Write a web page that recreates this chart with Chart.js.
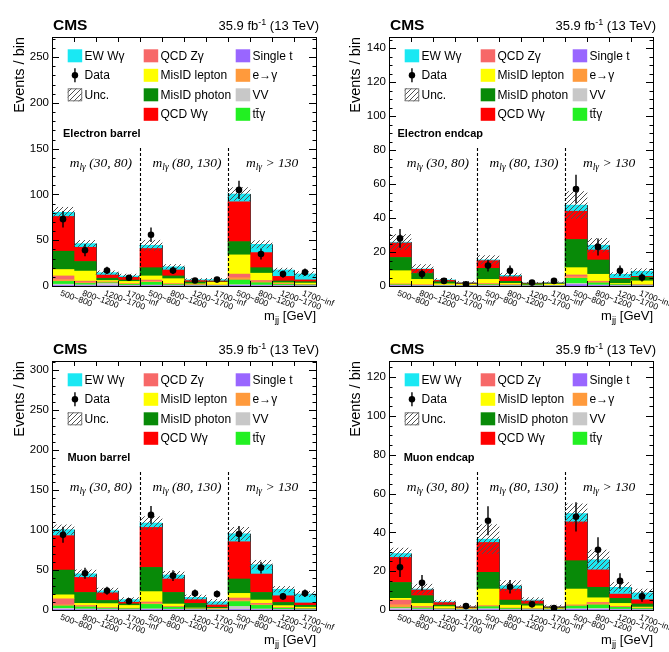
<!DOCTYPE html>
<html><head><meta charset="utf-8">
<script src="https://cdn.jsdelivr.net/npm/chart.js@4/dist/chart.umd.min.js"></script>
<style>
html,body{margin:0;padding:0;background:#fff;}
#wrap{position:relative;width:669px;height:652px;overflow:hidden;background:#fff;}
#wrap canvas{position:absolute;}
</style></head><body><div id="wrap">
<canvas id="c0" width="335" height="326" style="left:0;top:0"></canvas>
<canvas id="c1" width="334" height="326" style="left:335px;top:0"></canvas>
<canvas id="c2" width="335" height="326" style="left:0;top:326px"></canvas>
<canvas id="c3" width="334" height="326" style="left:335px;top:326px"></canvas>
</div>
<script>
// ---------- categories / tick labels ----------
const mjjBins = ['500~800', '800~1200', '1200~1700', '1700~inf'];
const mlgRegions = ['(30, 80)', '(80, 130)', '> 130'];
const categories = [...mjjBins, ...mjjBins, ...mjjBins];
const compNames = ['Single t', 'VV', 'tt\u0304\u03b3', 'e\u2192\u03b3', 'QCD Z\u03b3', 'MisID lepton', 'MisID photon', 'QCD W\u03b3', 'EW W\u03b3'];

// ---------- Electron barrel ----------
const ebSingleT = [0.5, 0.3, 0.3, 0.2, 0.3, 0.2, 0.1, 0.1, 0.5, 0.3, 0.2, 0.1];
const ebVV      = [1.5, 1, 2.5, 0.5, 0.7, 0.3, 0.3, 0.2, 1, 0.7, 0.5, 0.3];
const ebTTG     = [3, 1.5, 0.7, 1, 3, 1, 0.5, 0.3, 5, 2.5, 1, 0.8];
const ebEtoG    = [2, 1, 0.5, 0.3, 1, 0.5, 0.2, 0.2, 2.5, 1, 0.3, 0.2];
const ebQCDZg   = [4, 1.5, 0.5, 0.5, 1.5, 0.5, 0.3, 0.2, 4, 1.5, 0.5, 0.3];
const ebMisLep  = [7, 11, 1.5, 2.5, 4.5, 5.5, 1, 3, 21, 8, 1, 1.5];
const ebMisPho  = [20, 10.5, 2.5, 1.5, 9, 3, 2, 0.5, 14.5, 6, 2, 1.5];
const ebQCDWg   = [38, 15.5, 3.5, 3, 21, 6.5, 1.5, 1, 43.5, 16.5, 5, 2];
const ebEWWg    = [4.5, 4, 2.6, 1.5, 3.5, 3.5, 1, 1.5, 8.5, 9, 7, 6.5];
const ebUnc     = [5.5, 3.5, 2, 2, 5.5, 2.5, 1.2, 1.4, 7, 4, 2, 2.5];
const ebData    = [73, 39, 17, 9, 56, 17, 6, 7, 105, 35, 13, 15];
const ebDataErr = [9, 6.5, 4, 3, 8, 4, 2.5, 2.6, 10, 6, 3.7, 4];

// ---------- Electron endcap ----------
const eeSingleT = [0.2, 0.1, 0.05, 0.05, 0.1, 0.05, 0.02, 0.02, 0.8, 0.3, 0.1, 0.1];
const eeVV      = [0.2, 0.1, 0.1, 0.05, 0.2, 0.1, 0.05, 0.05, 0.7, 0.3, 0.2, 0.1];
const eeTTG     = [0.3, 0.2, 0.2, 0.1, 0.5, 0.3, 0.1, 0.1, 3, 1.2, 0.5, 0.3];
const eeEtoG    = [0.2, 0.1, 0.05, 0.1, 0.3, 0.1, 0.05, 0.05, 1, 0.5, 0.1, 0.1];
const eeQCDZg   = [0.3, 0.2, 0.1, 0.1, 0.3, 0.2, 0.05, 0.05, 1, 0.5, 0.1, 0.2];
const eeMisLep  = [7.8, 3.2, 0.8, 0.6, 2.5, 0.8, 0.3, 0.8, 4.3, 4.1, 0.5, 2.2];
const eeMisPho  = [7.8, 3.5, 1.2, 0.3, 6.5, 1.2, 0.8, 0.4, 16.6, 8.4, 2.5, 2.2];
const eeQCDWg   = [8.5, 2.4, 0.8, 0.5, 4.5, 2.7, 0.3, 0.3, 16.6, 5.9, 0.5, 0.5];
const eeEWWg    = [0.5, 0.3, 0.3, 0.2, 0.5, 0.8, 0.1, 0.3, 3.6, 2.8, 2.4, 3.0];
const eeUnc     = [4.5, 2.5, 0.9, 0.7, 2.5, 1.3, 0.4, 0.4, 8, 4, 1, 1.5];
const eeData    = [28, 7, 3, 1, 12, 9, 2, 3, 57, 23, 9, 5];
const eeDataErr = [5.5, 2.7, 1.7, 1, 3.5, 3, 1.4, 1.7, 8.5, 5, 3, 2.3];

// ---------- Muon barrel ----------
const mbSingleT = [0.5, 0.3, 0.2, 0.1, 0.5, 0.3, 0.1, 0.1, 0.5, 0.3, 0.2, 0.1];
const mbVV      = [1.5, 1, 1, 0.5, 1, 0.7, 0.5, 0.3, 4, 1, 0.5, 0.3];
const mbTTG     = [3, 2.5, 1, 1, 5.5, 2.5, 0.8, 0.5, 6, 4.5, 1.5, 1];
const mbEtoG    = [1.5, 0.7, 0.3, 0.3, 1.5, 0.5, 0.2, 0.2, 1.5, 1, 0.3, 0.2];
const mbQCDZg   = [7.5, 1, 0.5, 0.3, 1.5, 0.5, 0.4, 0.2, 3, 1.5, 0.5, 0.4];
const mbMisLep  = [5, 2.8, 5, 3.5, 13, 3, 0.5, 0.7, 5.8, 4.2, 2.5, 1.5];
const mbMisPho  = [31, 13.7, 4, 2, 30.3, 14.5, 5.8, 1.5, 18, 9.5, 4, 2.3];
const mbQCDWg   = [43, 18.8, 9.5, 2, 50, 16.8, 4.7, 2.8, 46.6, 23, 8.3, 3];
const mbEWWg    = [7.5, 4.5, 2.5, 3.3, 5.5, 5, 2.8, 4, 10, 11.7, 8.2, 11.2];
const mbUnc     = [6, 5, 3.5, 2.5, 8, 4.5, 3, 3, 8, 5.5, 3.5, 3.3];
const mbData    = [94, 46, 24, 11, 119, 43, 21, 20, 95, 53, 17, 21];
const mbDataErr = [10, 7, 5, 3.3, 11, 6.6, 4.6, 4.5, 10, 7.3, 4.1, 4.6];

// ---------- Muon endcap ----------
const meSingleT = [0.1, 0.1, 0.05, 0.02, 0.2, 0.05, 0.05, 0.02, 0.3, 0.2, 0.1, 0.05];
const meVV      = [0.8, 0.4, 0.2, 0.1, 0.5, 0.2, 0.1, 0.1, 0.4, 0.6, 0.3, 0.2];
const meTTG     = [0.3, 0.5, 0.3, 0.2, 1, 0.5, 0.3, 0.2, 1.3, 1.8, 1, 0.5];
const meEtoG    = [1.5, 0.3, 0.1, 0.1, 0.3, 0.1, 0.1, 0.05, 0.3, 0.6, 0.2, 0.1];
const meQCDZg   = [2.4, 0.5, 0.1, 0.1, 0.2, 0.15, 0.1, 0.05, 0.3, 0.7, 0.3, 0.15];
const meMisLep  = [0.9, 1.6, 1, 0.3, 8.6, 1.5, 1.5, 0.3, 8.2, 2.4, 1.5, 0.5];
const meMisPho  = [8.2, 4, 0.8, 0.3, 8.6, 2.6, 1, 0.5, 14.6, 5.4, 2.6, 1.6];
const meQCDWg   = [12.9, 2.9, 1.3, 0.5, 15.4, 5.7, 1.5, 0.4, 20, 9, 2.2, 2.2];
const meEWWg    = [2, 0.5, 0.4, 0.1, 1.7, 1.7, 0.5, 0.2, 4.3, 5.2, 3.5, 3.5];
const meUnc     = [2.8, 2.5, 0.8, 0.6, 7.5, 2.6, 1.2, 0.7, 5, 5, 2.5, 2];
const meData    = [22, 14, null, 2, 46, 12, 3, 1, 48, 31, 15, 7];
const meDataErr = [5, 4, 0, 1.4, 7.5, 3.5, 1.7, 1, 7.5, 6.5, 4, 2.8];

// ---------- styling ----------
const compColors = ['#9966ff', '#c8c8c8', '#22f022', '#ff9a3c', '#f76868', '#ffff00', '#088a08', '#ff0000', '#1ae8f3'];
const SANS = '"Liberation Sans", Arial, sans-serif';
const SERIF = '"Liberation Serif", "Times New Roman", serif';

const hatch = (() => {
  const p = document.createElement('canvas'); p.width = 5; p.height = 5;
  const c = p.getContext('2d');
  c.strokeStyle = '#505050'; c.lineWidth = 1;
  c.beginPath();
  c.moveTo(0, 5); c.lineTo(5, 0);
  c.moveTo(-1, 1); c.lineTo(1, -1);
  c.moveTo(4, 6); c.lineTo(6, 4);
  c.stroke();
  return document.createElement('canvas').getContext('2d').createPattern(p, 'repeat');
})();

const panels = [
  { canvas: 'c0', name: 'Electron barrel', comps: [ebSingleT, ebVV, ebTTG, ebEtoG, ebQCDZg, ebMisLep, ebMisPho, ebQCDWg, ebEWWg], unc: ebUnc, data: ebData, err: ebDataErr,
    yMax: 272, major: 50, minor: 10, yw: 52, pad: { left: 0, right: 19, top: 37, bottom: 40 }, ytx: 24, nameDx: 11 },
  { canvas: 'c1', name: 'Electron endcap', comps: [eeSingleT, eeVV, eeTTG, eeEtoG, eeQCDZg, eeMisLep, eeMisPho, eeQCDWg, eeEWWg], unc: eeUnc, data: eeData, err: eeDataErr,
    yMax: 146.5, major: 20, minor: 5, yw: 54, pad: { left: 0, right: 16, top: 37, bottom: 40 }, ytx: 24.5, nameDx: 8.5 },
  { canvas: 'c2', name: 'Muon barrel', comps: [mbSingleT, mbVV, mbTTG, mbEtoG, mbQCDZg, mbMisLep, mbMisPho, mbQCDWg, mbEWWg], unc: mbUnc, data: mbData, err: mbDataErr,
    yMax: 311.5, major: 50, minor: 10, yw: 52, pad: { left: 0, right: 19, top: 35, bottom: 42 }, ytx: 24, nameDx: 15.4 },
  { canvas: 'c3', name: 'Muon endcap', comps: [meSingleT, meVV, meTTG, meEtoG, meQCDZg, meMisLep, meMisPho, meQCDWg, meEWWg], unc: meUnc, data: meData, err: meDataErr,
    yMax: 128.3, major: 20, minor: 5, yw: 54, pad: { left: 0, right: 16, top: 35, bottom: 42 }, ytx: 24.5, nameDx: 14.7 },
];

function drawSub(ctx, parts, x, y, align) {
  // parts: [text, font, dy]
  let w = 0;
  parts.forEach(p => { ctx.font = p[1]; p.w = ctx.measureText(p[0]).width; w += p.w; });
  let cx = align === 'right' ? x - w : x;
  ctx.textAlign = 'left'; ctx.textBaseline = 'alphabetic';
  parts.forEach(p => { ctx.font = p[1]; ctx.fillText(p[0], cx, y + p[2]); cx += p.w; });
}

const deco = {
  id: 'deco',
  afterDatasetDraw(chart, args) {
    if (args.index !== 8) return;
    const p = chart.options.plugins.deco.panel;
    const xs = chart.scales.x, ys = chart.scales.y, ctx = chart.ctx;
    const bw = xs.getPixelForValue(1) - xs.getPixelForValue(0);
    const tot = categories.map((_, j) => p.comps.reduce((s, a) => s + a[j], 0));
    ctx.save();
    ctx.strokeStyle = 'rgba(0,0,0,0.75)'; ctx.lineWidth = 1;
    ctx.beginPath();
    for (let j = 0; j <= categories.length; j++) {
      const ex = Math.round(xs.getPixelForValue(j) - bw / 2) + 0.5;
      const h = Math.max(j > 0 ? tot[j - 1] : 0, j < categories.length ? tot[j] : 0);
      ctx.moveTo(ex, ys.getPixelForValue(0)); ctx.lineTo(ex, ys.getPixelForValue(h));
    }
    ctx.stroke();
    ctx.restore();
  },
  afterDraw(chart) {
    const p = chart.options.plugins.deco.panel;
    const ctx = chart.ctx, xs = chart.scales.x, ys = chart.scales.y;
    const { left: L, right: R, top: T, bottom: B } = chart.chartArea;
    const bw = xs.getPixelForValue(1) - xs.getPixelForValue(0);
    ctx.save();
    // error bars for data
    const meta = chart.getDatasetMeta(10);
    ctx.strokeStyle = '#000'; ctx.lineWidth = 1.4;
    p.data.forEach((d, j) => {
      if (d === null) return;
      const x = meta.data[j].x;
      ctx.beginPath();
      ctx.moveTo(x, ys.getPixelForValue(d + p.err[j]));
      ctx.lineTo(x, ys.getPixelForValue(Math.max(0, d - p.err[j])));
      ctx.stroke();
    });
    // dashed separators
    ctx.setLineDash([3, 2]); ctx.lineWidth = 1.1;
    [4, 8].forEach(k => {
      const ex = Math.round(xs.getPixelForValue(k) - bw / 2) + 0.5;
      ctx.beginPath(); ctx.moveTo(ex, B); ctx.lineTo(ex, T + 111); ctx.stroke();
    });
    ctx.setLineDash([]);
    // frame
    ctx.lineWidth = 1; ctx.strokeStyle = '#000';
    ctx.strokeRect(Math.round(L) + 0.5, Math.round(T) + 0.5, Math.round(R - L), Math.round(B - T));
    // y ticks
    ctx.beginPath();
    for (let v = 0; v <= p.yMax + 1e-6; v += p.minor) {
      const isMaj = Math.abs(v / p.major - Math.round(v / p.major)) < 1e-6;
      const len = isMaj ? 7 : 3.5;
      const y = Math.round(ys.getPixelForValue(v)) + 0.5;
      ctx.moveTo(L, y); ctx.lineTo(L + len, y);
      ctx.moveTo(R, y); ctx.lineTo(R - len, y);
    }
    // x ticks at bin edges
    for (let j = 1; j < categories.length; j++) {
      const ex = Math.round(xs.getPixelForValue(j) - bw / 2) + 0.5;
      ctx.moveTo(ex, B); ctx.lineTo(ex, B - 5);
      ctx.moveTo(ex, T); ctx.lineTo(ex, T + 5);
    }
    ctx.stroke();
    // x tick labels
    ctx.fillStyle = '#000';
    ctx.font = '8.5px ' + SANS;
    categories.forEach((lab, j) => {
      const cx = xs.getPixelForValue(j);
      ctx.save();
      ctx.translate(cx - 1, B + 3);
      ctx.rotate(20 * Math.PI / 180);
      ctx.textAlign = 'left'; ctx.textBaseline = 'top';
      ctx.fillText(lab, 0, 0);
      ctx.restore();
    });
    // x title
    drawSub(ctx, [['m', '13px ' + SANS, 0], ['jj', '9.5px ' + SANS, 3], [' [GeV]', '13px ' + SANS, 0]], R, B + 33.5, 'right');
    // y title
    ctx.save();
    ctx.translate(p.ytx, T);
    ctx.rotate(-Math.PI / 2);
    ctx.font = '14.5px ' + SANS; ctx.textAlign = 'right'; ctx.textBaseline = 'alphabetic';
    ctx.fillText('Events / bin', 0, 0);
    ctx.restore();
    // CMS and lumi
    ctx.font = 'bold 15.5px ' + SANS; ctx.textAlign = 'left'; ctx.textBaseline = 'alphabetic';
    ctx.fillText('CMS', L + 1, T - 7.3);
    drawSub(ctx, [['35.9 fb', '13px ' + SANS, 0], ['-1', '9px ' + SANS, -5], [' (13 TeV)', '13px ' + SANS, 0]], R + 3, T - 7.3, 'right');
    // region name
    ctx.font = 'bold 11px ' + SANS; ctx.textAlign = 'left';
    ctx.fillText(p.name, L + p.nameDx, T + 100);
    // m_lgamma labels
    const offs = [17.7, 12.6, 17.9];
    mlgRegions.forEach((r, k) => {
      const x0 = xs.getPixelForValue(4 * k) - bw / 2 + offs[k];
      drawSub(ctx, [['m', 'italic 13.5px ' + SERIF, 0], ['l\u03b3', 'italic 9.5px ' + SERIF, 3], [' ' + r, 'italic 13.5px ' + SERIF, 0]], x0, T + 130, 'left');
    });
    // legend
    const rowY = r => T + 18.8 + 19.5 * r;
    const cols = [L + 15.7, L + 91.7, L + 183.7];
    const items = [
      [0, 0, 'box', 8], [0, 1, 'data', 'Data'], [0, 2, 'hatch', 'Unc.'],
      [1, 0, 'box', 4], [1, 1, 'box', 5], [1, 2, 'box', 6], [1, 3, 'box', 7],
      [2, 0, 'box', 0], [2, 1, 'box', 3], [2, 2, 'box', 1], [2, 3, 'box', 2],
    ];
    items.forEach(([c, r, kind, what]) => {
      const x = cols[c], y = rowY(r);
      let label;
      if (kind === 'box') {
        ctx.fillStyle = compColors[what];
        ctx.fillRect(x, y - 6.5, 14.5, 13);
        label = compNames[what];
      } else if (kind === 'data') {
        ctx.fillStyle = '#000'; ctx.strokeStyle = '#000'; ctx.lineWidth = 1.4;
        ctx.beginPath(); ctx.moveTo(x + 7.25, y - 7); ctx.lineTo(x + 7.25, y + 7); ctx.stroke();
        ctx.beginPath(); ctx.arc(x + 7.25, y, 3.2, 0, Math.PI * 2); ctx.fill();
        label = what;
      } else {
        ctx.fillStyle = hatch; ctx.fillRect(x, y - 6.5, 14.5, 13);
        ctx.strokeStyle = '#777'; ctx.lineWidth = 1; ctx.strokeRect(x + 0.5, y - 6, 13.5, 12);
        label = what;
      }
      ctx.fillStyle = '#000'; ctx.font = '12px ' + SANS; ctx.textAlign = 'left'; ctx.textBaseline = 'middle';
      ctx.fillText(label, x + 16.8, y + 0.5);
    });
    ctx.restore();
  }
};

panels.forEach(p => {
  const datasets = p.comps.map((arr, i) => ({
    type: 'bar', label: compNames[i], data: arr, backgroundColor: compColors[i],
    borderWidth: 0, stack: 'mc', order: 3, categoryPercentage: 1, barPercentage: 1
  }));
  const total = categories.map((_, j) => p.comps.reduce((s, a) => s + a[j], 0));
  datasets.push({
    type: 'bar', label: 'Unc.', data: total.map((t, j) => [Math.max(0, t - p.unc[j]), t + p.unc[j]]),
    backgroundColor: hatch, borderWidth: 0, stack: 'unc', grouped: false, order: 2,
    categoryPercentage: 1, barPercentage: 1
  });
  datasets.push({
    type: 'line', label: 'Data', data: p.data, showLine: false, pointRadius: 3.3, pointHoverRadius: 3.3,
    pointBackgroundColor: '#000', pointBorderColor: '#000', pointBorderWidth: 0, borderColor: '#000',
    stack: 'data', order: 1, spanGaps: false
  });
  new Chart(document.getElementById(p.canvas), {
    data: { labels: categories, datasets },
    options: {
      responsive: false, animation: false, devicePixelRatio: 1,
      layout: { padding: p.pad },
      plugins: { legend: { display: false }, tooltip: { enabled: false }, deco: { panel: p } },
      scales: {
        x: { type: 'category', stacked: true, display: false },
        y: {
          stacked: true, min: 0, max: p.yMax,
          afterFit(s) { s.width = p.yw; },
          grid: { display: false, drawTicks: false },
          border: { display: false },
          ticks: { stepSize: p.major, includeBounds: false, padding: 3, color: '#000', font: { family: 'Liberation Sans', size: 11.5 } }
        }
      }
    },
    plugins: [deco]
  });
});
</script>
</body></html>
